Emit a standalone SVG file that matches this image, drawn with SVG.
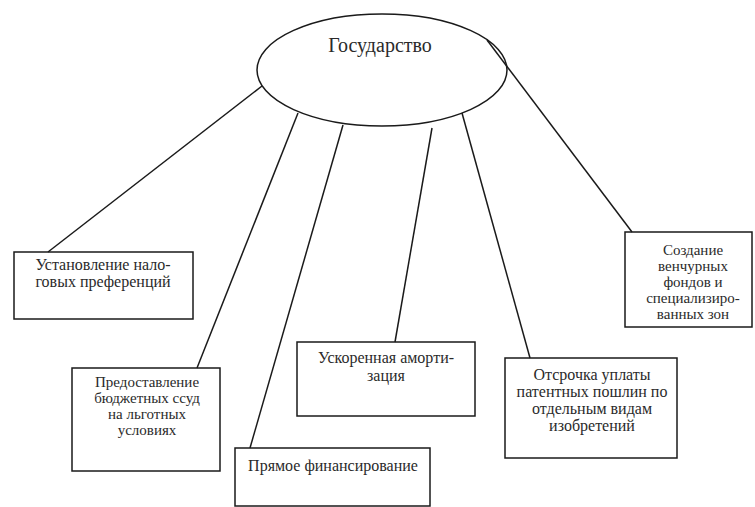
<svg xmlns="http://www.w3.org/2000/svg" width="755" height="507" viewBox="0 0 755 507">
<style>
.shape{fill:none;stroke:#1a1a1a;stroke-width:1.5}
.conn line{stroke:#1a1a1a;stroke-width:1.5}
text{font-family:"Liberation Serif","Times New Roman",serif;fill:#2a2a2a;text-anchor:middle}
.t{font-size:15px}
.w{font-size:16px}
.big{font-size:20px}
</style>
<rect width="755" height="507" fill="#ffffff"/>
<g id="connectors" class="conn">
<line x1="48" y1="252" x2="262" y2="86"/>
<line x1="197" y1="368" x2="298" y2="113"/>
<line x1="250" y1="448" x2="343" y2="125"/>
<line x1="395" y1="342" x2="432" y2="128"/>
<line x1="530" y1="358" x2="462" y2="113"/>
<line x1="632" y1="232" x2="487" y2="40"/>
</g>
<g id="state">
<ellipse class="shape" cx="382" cy="70" rx="125" ry="56" fill="#fff"/>
<text class="big" x="380" y="52">Государство</text>
</g>
<g id="tax">
<rect class="shape" x="14" y="252" width="179" height="67"/>
<text class="w" x="103" y="270">Установление нало-</text>
<text class="w" x="103" y="287">говых преференций</text>
</g>
<g id="loans">
<rect class="shape" x="72" y="368" width="148" height="103"/>
<text class="t" x="147" y="387">Предоставление</text>
<text class="t" x="147" y="403">бюджетных ссуд</text>
<text class="t" x="147" y="419">на льготных</text>
<text class="t" x="147" y="435">условиях</text>
</g>
<g id="direct">
<rect class="shape" x="235" y="448" width="195" height="58"/>
<text class="w" x="333" y="471">Прямое финансирование</text>
</g>
<g id="amort">
<rect class="shape" x="297" y="342" width="178" height="74"/>
<text class="w" x="386" y="363">Ускоренная аморти-</text>
<text class="w" x="386" y="381">зация</text>
</g>
<g id="patent">
<rect class="shape" x="505" y="358" width="172" height="100"/>
<text class="w" x="592" y="380">Отсрочка уплаты</text>
<text class="w" x="592" y="397">патентных пошлин по</text>
<text class="w" x="592" y="414">отдельным видам</text>
<text class="w" x="592" y="431">изобретений</text>
</g>
<g id="venture">
<rect class="shape" x="625" y="232" width="127" height="95"/>
<text class="t" x="693" y="255">Создание</text>
<text class="t" x="693" y="271">венчурных</text>
<text class="t" x="693" y="287">фондов и</text>
<text class="t" x="693" y="303">специализиро-</text>
<text class="t" x="693" y="319">ванных зон</text>
</g>
</svg>
